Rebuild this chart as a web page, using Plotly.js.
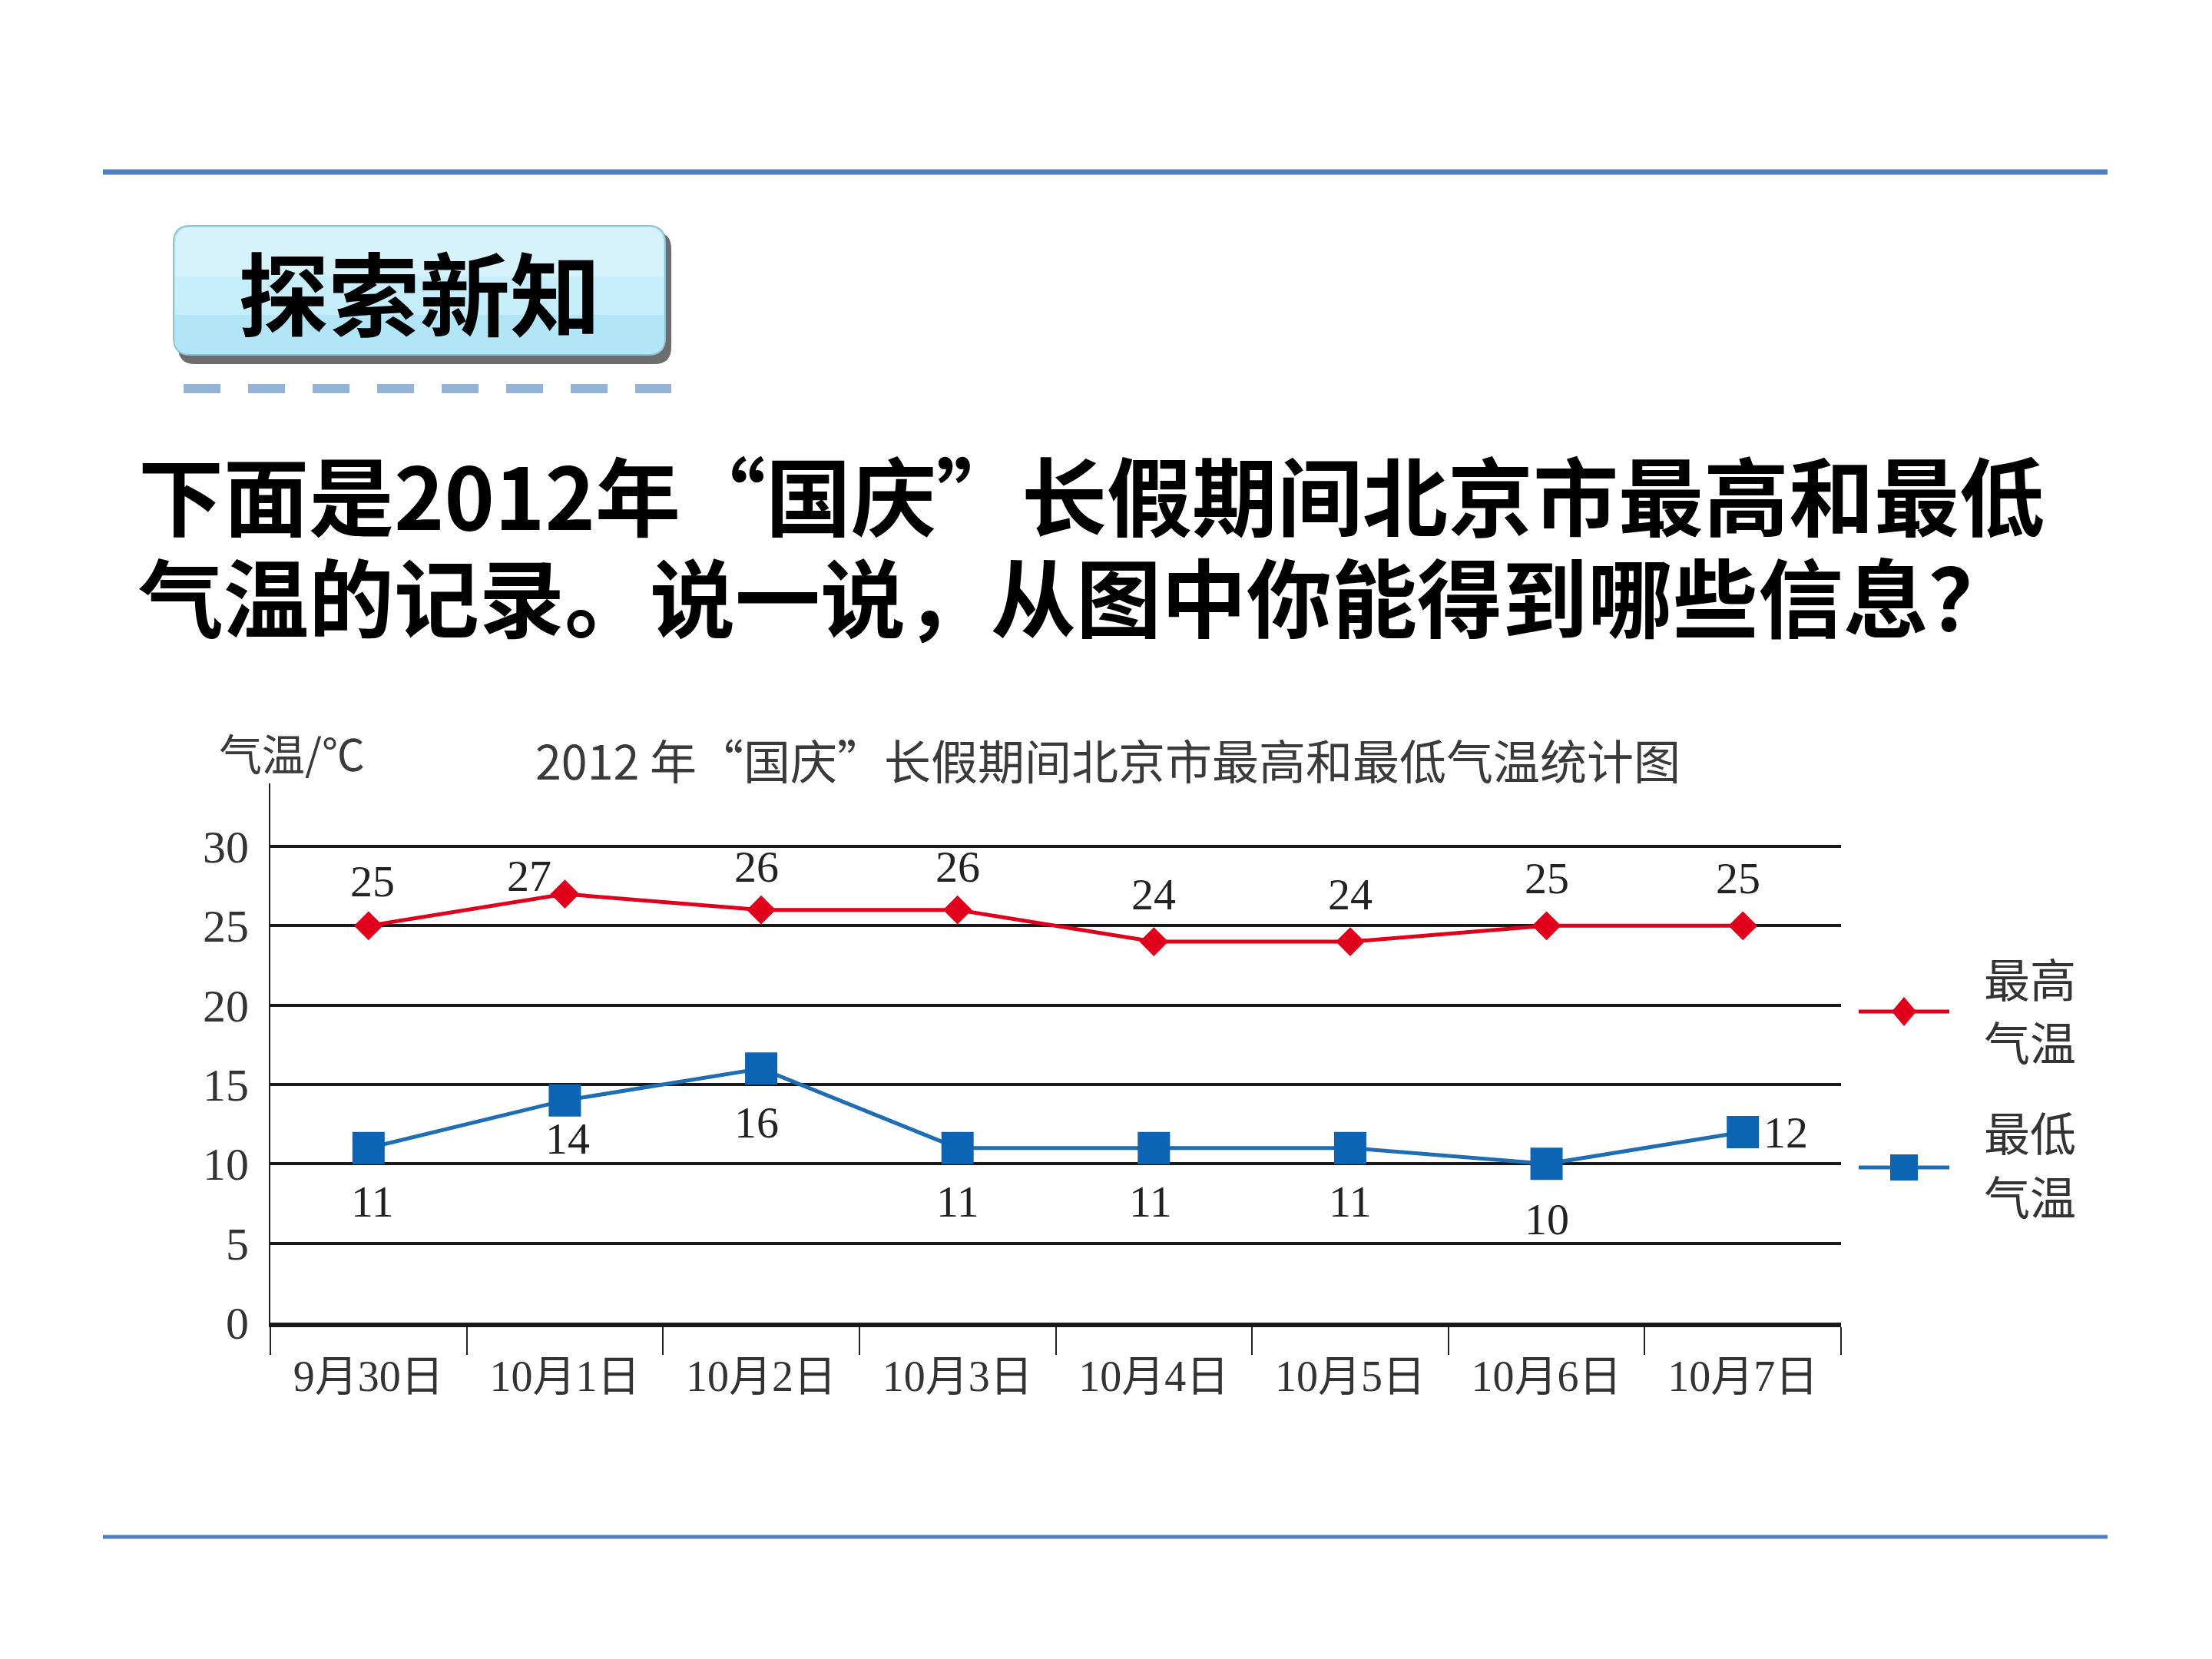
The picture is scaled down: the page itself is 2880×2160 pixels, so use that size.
<!DOCTYPE html>
<html>
<head>
<meta charset="utf-8">
<script src="https://cdn.plot.ly/plotly-3.0.1.min.js"></script>
<style>html,body{margin:0;padding:0;background:#fff;}#chart{width:2880px;height:2160px;}</style>
</head>
<body>
<div id="chart"></div>
<script>
// ---- data ----
const dates = ["9月30日","10月1日","10月2日","10月3日","10月4日","10月5日","10月6日","10月7日"];
const highTemps = [25, 27, 26, 26, 24, 24, 25, 25];
const lowTemps  = [11, 14, 16, 11, 11, 11, 10, 12];
const yTicks = [0, 5, 10, 15, 20, 25, 30];
const seriesNames = ["最高气温", "最低气温"];

// ---- label placement (pixels, relative to each marker) ----
const highLabelShift = [[5,58],[-46,24],[-6,56],[0,56],[0,62],[0,62],[0,62],[-6,62]];
const lowLabelShift  = [[5,-70],[4,-50],[-6,-70],[0,-70],[-4,-70],[0,-70],[0,-72],[56,0]];

// ---- page geometry ----
const W = 2880, H = 2160;
const L = 352, R = 2397, T = 1020, B = 1722;
const PW = R - L, PH = B - T;
const fx = x => (x - L) / PW;
const fy = y => (B - y) / PH;

const RED = "#e0001b", BLUE = "#0d64b4", BLUE_LINE = "#1f6db3";
const serif = "Liberation Serif, 'Noto Sans CJK SC', serif";
const cjk = "'Noto Sans CJK SC', sans-serif";

function roundRect(x0, y0, x1, y1, r) {
  const X = fx, Y = fy;
  return `M ${X(x0 + r)},${Y(y0)} L ${X(x1 - r)},${Y(y0)} Q ${X(x1)},${Y(y0)} ${X(x1)},${Y(y0 + r)} ` +
         `L ${X(x1)},${Y(y1 - r)} Q ${X(x1)},${Y(y1)} ${X(x1 - r)},${Y(y1)} ` +
         `L ${X(x0 + r)},${Y(y1)} Q ${X(x0)},${Y(y1)} ${X(x0)},${Y(y1 - r)} ` +
         `L ${X(x0)},${Y(y0 + r)} Q ${X(x0)},${Y(y0)} ${X(x0 + r)},${Y(y0)} Z`;
}
function topRoundRect(x0, y0, x1, y1, r) {
  const X = fx, Y = fy;
  return `M ${X(x0 + r)},${Y(y0)} L ${X(x1 - r)},${Y(y0)} Q ${X(x1)},${Y(y0)} ${X(x1)},${Y(y0 + r)} ` +
         `L ${X(x1)},${Y(y1)} L ${X(x0)},${Y(y1)} L ${X(x0)},${Y(y0 + r)} Q ${X(x0)},${Y(y0)} ${X(x0 + r)},${Y(y0)} Z`;
}
function diamond(cx, cy, hw, hh) {
  return `M ${fx(cx - hw)},${fy(cy)} L ${fx(cx)},${fy(cy - hh)} L ${fx(cx + hw)},${fy(cy)} L ${fx(cx)},${fy(cy + hh)} Z`;
}

const traces = [
  {
    x: dates, y: highTemps, name: seriesNames[0], type: "scatter", mode: "lines+markers",
    line: {color: RED, width: 5},
    marker: {symbol: "diamond", size: 29, color: RED},
    cliponaxis: false, hoverinfo: "skip"
  },
  {
    x: dates, y: lowTemps, name: seriesNames[1], type: "scatter", mode: "lines+markers",
    line: {color: BLUE_LINE, width: 5},
    marker: {symbol: "square", size: 42, color: BLUE},
    cliponaxis: false, hoverinfo: "skip"
  }
];

const annotations = [];
dates.forEach((d, i) => {
  annotations.push({x: d, y: highTemps[i], xref: "x", yref: "y", text: String(highTemps[i]),
    showarrow: false, xshift: highLabelShift[i][0], yshift: highLabelShift[i][1],
    font: {family: serif, size: 58, color: "#222"}});
  annotations.push({x: d, y: lowTemps[i], xref: "x", yref: "y", text: String(lowTemps[i]),
    showarrow: false, xshift: lowLabelShift[i][0], yshift: lowLabelShift[i][1],
    font: {family: serif, size: 58, color: "#222"}});
});

function pageText(text, x, y, size, opts) {
  return Object.assign({
    xref: "paper", yref: "paper", x: fx(x), y: fy(y), text: text, showarrow: false,
    xanchor: "center", yanchor: "middle",
    font: {family: cjk, size: size, color: "#000"}
  }, opts || {});
}

// slide texts
annotations.push(pageText("探索新知", 546, 378, 118, {font: {family: cjk, size: 118, color: "#000", weight: 700}}));
annotations.push(pageText("下面是2012年“国庆”长假期间北京市最高和最低", 178, 641, 111,
  {xanchor: "left", font: {family: cjk, size: 111, color: "#000", weight: 700}}));
annotations.push(pageText("气温的记录。说一说，从图中你能得到哪些信息？", 178, 773, 111,
  {xanchor: "left", font: {family: cjk, size: 111, color: "#000", weight: 700}}));

// chart title & axis title
annotations.push(pageText("2012 年“国庆”长假期间北京市最高和最低气温统计图", 1442, 988, 61,
  {font: {family: cjk, size: 61, color: "#3a3a3a"}}));
annotations.push(pageText("气温/℃", 380, 978, 56, {font: {family: cjk, size: 56, color: "#3a3a3a"}}));

// legend texts
[["最高", 1272], ["气温", 1354], ["最低", 1472], ["气温", 1555]].forEach(([t, y]) => {
  annotations.push(pageText(t, 2581, y, 60, {xanchor: "left", font: {family: cjk, size: 60, color: "#333"}}));
});

const shapes = [
  // top / bottom rules
  {type: "line", xref: "paper", yref: "paper", x0: fx(134), x1: fx(2744), y0: fy(224), y1: fy(224),
   line: {color: "#4f7fc0", width: 7}},
  {type: "line", xref: "paper", yref: "paper", x0: fx(134), x1: fx(2744), y0: fy(2001), y1: fy(2001),
   line: {color: "#4f7fc0", width: 5}},
  // title box shadow
  {type: "path", xref: "paper", yref: "paper", path: roundRect(232, 302, 874, 474, 22),
   fillcolor: "rgba(60,60,60,0.75)", line: {width: 0}},
  // title box
  {type: "path", xref: "paper", yref: "paper", path: roundRect(226, 294, 866, 462, 22),
   fillcolor: "#b2e6f7", line: {color: "#8fc3d6", width: 2}},
  {type: "path", xref: "paper", yref: "paper", path: topRoundRect(228, 296, 864, 360, 21),
   fillcolor: "#d6f3fc", line: {width: 0}},
  {type: "rect", xref: "paper", yref: "paper", x0: fx(228), x1: fx(864), y0: fy(360), y1: fy(410),
   fillcolor: "#c5eefa", line: {width: 0}},
  // dashed line under box
  {type: "line", xref: "paper", yref: "paper", x0: fx(239), x1: fx(874), y0: fy(506), y1: fy(506),
   line: {color: "#95b3d7", width: 12, dash: "48px,36px"}},
  // legend: high
  {type: "line", xref: "paper", yref: "paper", x0: fx(2420), x1: fx(2538), y0: fy(1317), y1: fy(1317),
   line: {color: RED, width: 5}},
  {type: "path", xref: "paper", yref: "paper", path: diamond(2479, 1317, 16, 19),
   fillcolor: RED, line: {width: 0}},
  // legend: low
  {type: "line", xref: "paper", yref: "paper", x0: fx(2420), x1: fx(2538), y0: fy(1520), y1: fy(1520),
   line: {color: BLUE_LINE, width: 5}},
  {type: "rect", xref: "paper", yref: "paper", x0: fx(2461), x1: fx(2497), y0: fy(1503), y1: fy(1537),
   fillcolor: BLUE, line: {width: 0}}
];

const layout = {
  width: W, height: H,
  margin: {l: L, r: W - R, t: T, b: H - B, pad: 0},
  paper_bgcolor: "#ffffff", plot_bgcolor: "#ffffff",
  showlegend: false,
  xaxis: {
    type: "category", range: [-0.5, 7.5], fixedrange: true,
    showline: true, linecolor: "#1a1a1a", linewidth: 6,
    ticks: "outside", tickson: "boundaries", ticklen: 36, tickwidth: 2, tickcolor: "#222",
    ticklabelstandoff: 16,
    tickfont: {family: serif, size: 56, color: "#333"},
    showgrid: false, zeroline: false
  },
  yaxis: {
    range: [0, 33.97], fixedrange: true,
    tickmode: "array", tickvals: yTicks, ticktext: yTicks.map(String),
    showgrid: true, gridcolor: "#1a1a1a", gridwidth: 4, zeroline: false,
    showline: true, linecolor: "#222", linewidth: 2,
    ticks: "", ticklabelstandoff: 14,
    tickfont: {family: serif, size: 60, color: "#333"}
  },
  shapes: shapes,
  annotations: annotations
};

Plotly.newPlot("chart", traces, layout, {displayModeBar: false, staticPlot: true});
</script>
</body>
</html>
